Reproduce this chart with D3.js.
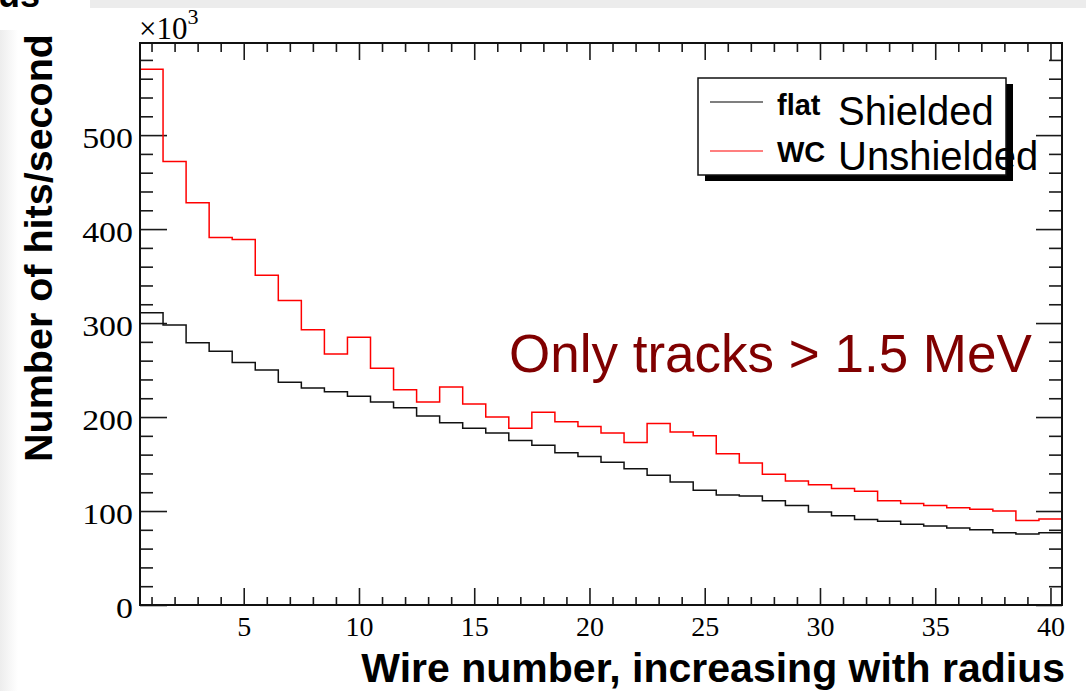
<!DOCTYPE html>
<html>
<head>
<meta charset="utf-8">
<script src="https://cdn.jsdelivr.net/npm/d3@7"></script>
<style>
  html, body { margin: 0; padding: 0; background: #fff; }
  svg { display: block; }
  .tick text { font-family: "Liberation Serif", "Times New Roman", serif; fill: #000; }
  .tick line { stroke: #1a1a1a; stroke-width: 1.6; }
</style>
</head>
<body>
<svg id="chart" width="1086" height="691"></svg>
<script>
// Wire index (bins of width 1, centred on each wire number)
const wires = [1, 2, 3, 4, 5, 6, 7, 8, 9, 10, 11, 12, 13, 14, 15, 16, 17, 18, 19, 20,
               21, 22, 23, 24, 25, 26, 27, 28, 29, 30, 31, 32, 33, 34, 35, 36, 37, 38, 39, 40];

// Hit rates in units of 10^3 hits/second
const shielded = [311, 298, 279, 270, 258, 250, 237, 231, 227, 222, 216, 210, 201, 194, 188, 183,
                  175, 170, 162, 158, 152, 145, 138, 131, 122, 117, 116, 111, 106, 99, 95, 91,
                  89, 86, 84, 82, 80, 77, 75.5, 77];
const unshielded = [570, 472, 428, 391, 389, 351, 324, 293, 267, 285, 252, 229, 216, 232, 214, 200,
                    188, 205, 195, 190, 183, 173, 193, 184, 180, 161, 151, 139, 132, 128, 124, 121,
                    111, 108, 106, 103.5, 102, 100, 90, 91.5];

// Axis ticks
const xMajorTicks = [5, 10, 15, 20, 25, 30, 35, 40];
const xMinorTicks = wires.filter(w => w % 5 !== 0);
const yMajorTicks = [0, 100, 200, 300, 400, 500];
const yMinorTicks = [20, 40, 60, 80, 120, 140, 160, 180, 220, 240, 260, 280, 320, 340, 360, 380,
                     420, 440, 460, 480, 520, 540, 560, 580];

const svg = d3.select("#chart");
const W = 1086, H = 691;
const frame = { left: 140, right: 1062, top: 43, bottom: 605 };

const x = d3.scaleLinear().domain([0.5, 40.5]).range([frame.left, frame.right]);
const y = d3.scaleLinear().domain([0, 598]).range([frame.bottom, frame.top]);

// Page backdrop: faint grey strips at the top and left edge
const defs = svg.append("defs");
const lg = defs.append("linearGradient").attr("id", "leftFade").attr("x1", "0").attr("x2", "1");
lg.append("stop").attr("offset", "0").attr("stop-color", "#ededed");
lg.append("stop").attr("offset", "1").attr("stop-color", "#ffffff");
svg.append("rect").attr("x", 0).attr("y", 30).attr("width", 18).attr("height", H - 30).attr("fill", "url(#leftFade)");
svg.append("rect").attr("x", 90).attr("y", 0).attr("width", W - 90).attr("height", 8).attr("fill", "#ececec");
svg.append("text").attr("x", -2).attr("y", 7)
  .style("font-family", "'Liberation Sans', Arial, sans-serif").style("font-weight", "bold")
  .style("font-size", "36px").text("us");

// Axes (ticks drawn inward, ROOT style)
function styleAxis(g) { g.select(".domain").remove(); }

svg.append("g").attr("transform", `translate(0,${frame.bottom})`)
  .call(d3.axisBottom(x).tickValues(xMinorTicks).tickSize(-8).tickFormat(""))
  .call(styleAxis);
const xAxis = svg.append("g").attr("transform", `translate(0,${frame.bottom})`)
  .call(d3.axisBottom(x).tickValues(xMajorTicks).tickSize(-17).tickPadding(11).tickFormat(d3.format("d")))
  .call(styleAxis);
xAxis.selectAll("text").style("font-size", "28px");

svg.append("g").attr("transform", `translate(0,${frame.top})`)
  .call(d3.axisTop(x).tickValues(xMinorTicks).tickSize(-9).tickFormat(""))
  .call(styleAxis);
svg.append("g").attr("transform", `translate(0,${frame.top})`)
  .call(d3.axisTop(x).tickValues(xMajorTicks).tickSize(-17).tickFormat(""))
  .call(styleAxis);

svg.append("g").attr("transform", `translate(${frame.left},0)`)
  .call(d3.axisLeft(y).tickValues(yMinorTicks).tickSize(-13).tickFormat(""))
  .call(styleAxis);
const yAxis = svg.append("g").attr("transform", `translate(${frame.left},0)`)
  .call(d3.axisLeft(y).tickValues(yMajorTicks).tickSize(-27).tickFormat(d3.format("d")))
  .call(styleAxis);
yAxis.selectAll("text")
  .style("font-size", "30px")
  .attr("x", 0).attr("dy", "0.4em")
  .attr("transform", "translate(-7,0) scale(1.13,1)");

svg.append("g").attr("transform", `translate(${frame.right},0)`)
  .call(d3.axisRight(y).tickValues(yMinorTicks).tickSize(-13).tickFormat(""))
  .call(styleAxis);
svg.append("g").attr("transform", `translate(${frame.right},0)`)
  .call(d3.axisRight(y).tickValues(yMajorTicks).tickSize(-26).tickFormat(""))
  .call(styleAxis);

// Exponent label for the y axis
const expo = svg.append("text").attr("x", 139).attr("y", 39)
  .style("font-family", "'Liberation Serif', 'Times New Roman', serif").style("font-size", "31px");
expo.append("tspan").text("×10");
expo.append("tspan").attr("dy", -15).style("font-size", "22px").text("3");

// Histogram outlines
function stepPoints(values) {
  const pts = [];
  wires.forEach((w, i) => { pts.push([w - 0.5, values[i]]); pts.push([w + 0.5, values[i]]); });
  return pts;
}
const line = d3.line().x(d => x(d[0])).y(d => y(d[1]));
svg.append("path").datum(stepPoints(unshielded)).attr("d", line)
  .attr("fill", "none").attr("stroke", "#ff0000").attr("stroke-width", 1.5);
svg.append("path").datum(stepPoints(shielded)).attr("d", line)
  .attr("fill", "none").attr("stroke", "#111").attr("stroke-width", 1.5);

// Frame
svg.append("rect").attr("x", frame.left).attr("y", frame.top)
  .attr("width", frame.right - frame.left).attr("height", frame.bottom - frame.top)
  .attr("fill", "none").attr("stroke", "#111").attr("stroke-width", 2);

// Axis titles
svg.append("text")
  .attr("transform", "translate(52,248) rotate(-90)")
  .attr("text-anchor", "middle")
  .style("font-family", "'Liberation Sans', Arial, sans-serif").style("font-weight", "bold")
  .style("font-size", "39.5px").text("Number of hits/second");
svg.append("text").attr("x", 1065).attr("y", 682).attr("text-anchor", "end")
  .style("font-family", "'Liberation Sans', Arial, sans-serif").style("font-weight", "bold")
  .style("font-size", "41px").text("Wire number, increasing with radius");

// Annotation
svg.append("text").attr("x", 509).attr("y", 372)
  .style("font-family", "'Liberation Sans', Arial, sans-serif")
  .style("font-size", "53px").attr("fill", "#800000").text("Only tracks > 1.5 MeV");

// Legend with drop shadow
const leg = { x: 698, y: 78, w: 308, h: 97 };
svg.append("rect").attr("x", leg.x + 7).attr("y", leg.y + 6).attr("width", leg.w).attr("height", leg.h).attr("fill", "#000");
svg.append("rect").attr("x", leg.x).attr("y", leg.y).attr("width", leg.w).attr("height", leg.h)
  .attr("fill", "#fff").attr("stroke", "#111").attr("stroke-width", 1.5);

const entries = [
  { tag: "flat", label: "Shielded", color: "#000", lineY: 102, tagY: 115, labelY: 125 },
  { tag: "WC", label: "Unshielded", color: "#ff0000", lineY: 151, tagY: 162, labelY: 170 }
];
entries.forEach(e => {
  svg.append("line").attr("x1", 710).attr("x2", 763).attr("y1", e.lineY).attr("y2", e.lineY)
    .attr("stroke", e.color).attr("stroke-width", 1.2);
  svg.append("text").attr("x", 777).attr("y", e.tagY)
    .style("font-family", "'Liberation Sans', Arial, sans-serif").style("font-weight", "bold")
    .style("font-size", "29px").text(e.tag);
  svg.append("text").attr("x", 838).attr("y", e.labelY)
    .style("font-family", "'Liberation Sans', Arial, sans-serif")
    .style("font-size", "40px").text(e.label);
});
</script>
</body>
</html>
